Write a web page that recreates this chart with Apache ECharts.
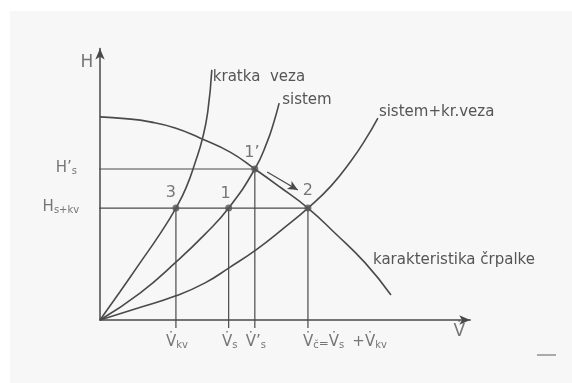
<!DOCTYPE html>
<html>
<head>
<meta charset="utf-8">
<script src="https://cdn.jsdelivr.net/npm/echarts@6/dist/echarts.min.js"></script>
<style>
  html, body { margin: 0; padding: 0; background: #fff; }
  #chart { width: 572px; height: 383px; }
</style>
</head>
<body>
<div id="chart"></div>
<script>
// Flow V (x) against head H (y), arbitrary units.

// Pump characteristic ("karakteristika črpalke")
const pumpCurve = [
  [0, 73.3], [6.7, 72.7], [13.4, 71.5], [20.1, 69.3], [26.7, 65.7], [34.8, 60.6],
  [41.4, 54.5], [48.1, 48.0], [55.6, 40.4], [62.8, 31.4], [70.9, 20.6], [77.8, 9.0]
];
// Short circuit branch ("kratka veza")
const shortCircuitCurve = [
  [0, 0], [5.3, 10.1], [10.7, 20.6], [16.0, 31.0], [20.3, 40.4], [23.0, 47.7],
  [25.6, 57.5], [27.4, 65.5], [28.8, 75.0], [29.9, 90.3]
];
// Piping system ("sistem")
const systemCurve = [
  [0, 0], [10.7, 9.7], [20.3, 20.9], [28.1, 31.0], [34.4, 40.4], [41.4, 54.5],
  [44.7, 64.3], [46.5, 71.5], [47.9, 78.3]
];
// System and short circuit in parallel ("sistem+kr.veza")
const combinedCurve = [
  [0, 0], [10.2, 4.3], [20.3, 8.7], [28.1, 13.4], [34.8, 19.1], [42.0, 25.6],
  [48.9, 32.9], [55.6, 40.4], [61.8, 48.4], [67.1, 57.4], [70.9, 65.0], [74.3, 72.9]
];

// Operating points
const pointNames = ['3', '1', '1\u2019', '2'];
const pointFlow  = [20.3, 34.4, 41.4, 55.6];
const pointHead  = [40.4, 40.4, 54.5, 40.4];

// Head levels read on the H axis
const headLevelValues = [54.5, 40.4];
const headLevelLabels = ['{b|H\u2019}{s|s}', '{b|H}{s|s+kv}'];
const headLevelEnds   = [41.4, 55.6];

// Flow values read on the V axis
const flowTickValues = [20.3, 34.4, 41.4, 55.6];
const flowTickLabels = [
  '{b|V\u0307}{s|kv}',
  '{b|V\u0307}{s|s}',
  '{b|V\u0307\u2019}{s|s}',
  '{b|V\u0307}{s|\u010d}{m|=}{b|V\u0307}{s|s} {b| +V\u0307}{s|kv}'
];

// Curve names
const curveNames = ['karakteristika \u010drpalke', 'kratka  veza', 'sistem', 'sistem+kr.veza'];

const ink = '#4a4a4a';
const textInk = '#555';
const fontFamily = 'DejaVu Sans';
const X_MAX = 99, Y_MAX = 98;
const GUIDE_LEFT = [-5.9, -5.3];
const GUIDE_BOTTOM = -2.9;

const rich = {
  b: { fontSize: 15, color: textInk, fontFamily },
  s: { fontSize: 10, color: textInk, fontFamily, padding: [6, 0, 0, 0] },
  m: { fontSize: 12, color: textInk, fontFamily, padding: [3, 0, 0, 0] }
};

const series = [];

// Curves
const curveData = [pumpCurve, shortCircuitCurve, systemCurve, combinedCurve];
const curveLabelOffset = [[-18, -35], [1, 7], [3, -3], [1, -6]];
curveData.forEach((d, i) => {
  series.push({
    type: 'line', data: d, smooth: 0.5, showSymbol: false, clip: false,
    lineStyle: { color: ink, width: 1.6 }, z: 3,
    endLabel: {
      show: true, formatter: curveNames[i], distance: 0, offset: curveLabelOffset[i],
      color: textInk, fontSize: 15, fontFamily
    }
  });
});

// Guide lines
headLevelValues.forEach((h, i) => {
  series.push({
    type: 'line', data: [[GUIDE_LEFT[i], h], [headLevelEnds[i], h]], showSymbol: false, clip: false,
    lineStyle: { color: ink, width: 1.2 }, z: 2
  });
});
pointFlow.forEach((v, i) => {
  series.push({
    type: 'line', data: [[v, GUIDE_BOTTOM], [v, pointHead[i]]], showSymbol: false, clip: false,
    lineStyle: { color: ink, width: 1.2 }, z: 2
  });
});

// Operating points with their numbers
const pointLabelOffset = [[-5, 1], [-3, 2], [-3, 0], [0, -1]];
series.push({
  type: 'scatter', symbol: 'circle', symbolSize: 7, clip: false, z: 5,
  itemStyle: { color: '#555' },
  data: pointNames.map((n, i) => ({
    name: n, value: [pointFlow[i], pointHead[i]],
    label: { offset: pointLabelOffset[i] }
  })),
  label: { show: true, position: 'top', formatter: '{b}', color: textInk, fontSize: 16, fontFamily }
});

// Head level labels left of the H axis
series.push({
  type: 'scatter', symbolSize: 0, clip: false, silent: true,
  data: headLevelValues.map((h, i) => ({ value: [GUIDE_LEFT[i], h], name: headLevelLabels[i] })),
  label: { show: true, position: 'left', distance: 1, formatter: '{b}', rich, offset: [0, -1] }
});

// Flow labels under the V axis
series.push({
  type: 'scatter', symbolSize: 0, clip: false, silent: true,
  data: flowTickValues.map((v, i) => ({
    value: [v, 0], name: flowTickLabels[i],
    label: i === flowTickValues.length - 1 ? { align: 'left', offset: [-5, 22] } : {}
  })),
  label: { show: true, position: 'inside', formatter: '{b}', rich, offset: [1, 22] }
});

// Axis names
series.push({
  type: 'scatter', symbolSize: 0, clip: false, silent: true,
  data: [
    { value: [0, Y_MAX], name: 'H', label: { offset: [-13, 14] } },
    { value: [X_MAX, 0], name: 'V\u0307', label: { offset: [-11, 12] } }
  ],
  label: { show: true, position: 'inside', formatter: '{b}', color: textInk, fontSize: 17, fontFamily }
});

// Direction of the shift from 1' towards 2
series.push({
  type: 'line', data: [], silent: true,
  markLine: {
    silent: true, symbol: ['none', 'arrow'], symbolSize: [7, 10],
    lineStyle: { color: ink, width: 1.3, type: 'solid' }, label: { show: false },
    data: [[{ coord: [44.7, 53.4] }, { coord: [52.9, 46.9] }]]
  }
});

const option = {
  animation: false,
  backgroundColor: '#ffffff',
  graphic: [
    { type: 'rect', left: 10, top: 11, shape: { width: 562, height: 372 }, style: { fill: '#f7f7f7' }, z: -10 },
    { type: 'line', shape: { x1: 537, y1: 355, x2: 556, y2: 355 }, style: { stroke: '#777', lineWidth: 1.2 } }
  ],
  grid: { left: 100, top: 48.5, width: 370.26, height: 271.46 },
  xAxis: {
    type: 'value', min: 0, max: X_MAX,
    axisLine: { show: true, onZero: false, symbol: ['none', 'arrow'], symbolSize: [7, 11],
      lineStyle: { color: ink, width: 1.5 } },
    axisTick: { show: false }, axisLabel: { show: false }, splitLine: { show: false }
  },
  yAxis: {
    type: 'value', min: 0, max: Y_MAX,
    axisLine: { show: true, onZero: false, symbol: ['none', 'arrow'], symbolSize: [7, 11],
      lineStyle: { color: ink, width: 1.5 } },
    axisTick: { show: false }, axisLabel: { show: false }, splitLine: { show: false }
  },
  series
};

const chart = echarts.init(document.getElementById('chart'));
chart.setOption(option);
</script>
</body>
</html>
